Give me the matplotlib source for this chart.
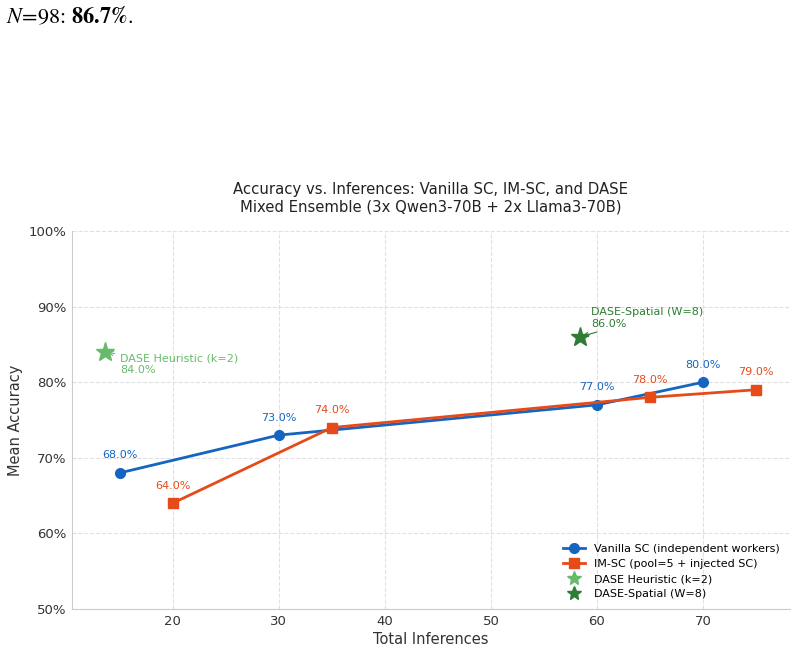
import matplotlib.pyplot as plt
from matplotlib.lines import Line2D
from matplotlib.ticker import PercentFormatter

# data
vanilla_x = [15, 30, 60, 70]
vanilla_y = [68.0, 73.0, 77.0, 80.0]
imsc_x = [20, 35, 65, 75]
imsc_y = [64.0, 74.0, 78.0, 79.0]
heur_x, heur_y = 13.6, 84.0
spatial_x, spatial_y = 58.4, 86.0

blue = '#1565C0'
orange = '#E64A19'
lgreen = '#66BB6A'
dgreen = '#2E7D32'

plt.rcParams['mathtext.fontset'] = 'stix'
fig = plt.figure(figsize=(7.96, 6.48), dpi=100)
ax = fig.add_axes([72 / 796, 1 - 609 / 648, (790 - 72) / 796, (609 - 231) / 648])

# page fragment above the chart
fig.text(0.008, 0.99, r'$N\!=\!98$: $\mathbf{86.7\%}$.', fontsize=16,
         family='STIXGeneral', va='top', ha='left')

ax.plot(vanilla_x, vanilla_y, '-o', color=blue, lw=2, ms=7, zorder=3)
ax.plot(imsc_x, imsc_y, '-s', color=orange, lw=2, ms=7, zorder=3)
ax.plot(heur_x, heur_y, '*', color=lgreen, ms=14, linestyle='none', zorder=4)
ax.plot(spatial_x, spatial_y, '*', color=dgreen, ms=14, linestyle='none', zorder=4)

for x, y in zip(vanilla_x, vanilla_y):
    ax.annotate(f'{y:.1f}%', (x, y), xytext=(0, 9), textcoords='offset points',
                ha='center', va='bottom', fontsize=8, color=blue)
for x, y in zip(imsc_x, imsc_y):
    ax.annotate(f'{y:.1f}%', (x, y), xytext=(0, 9), textcoords='offset points',
                ha='center', va='bottom', fontsize=8, color=orange)

ax.annotate(f'DASE Heuristic (k=2)\n{heur_y:.1f}%', (heur_x, heur_y),
            xytext=(11, -1), textcoords='offset points', ha='left', va='top',
            fontsize=8, color=lgreen,
            arrowprops=dict(arrowstyle='->', color=lgreen, lw=0.8))
ax.annotate(f'DASE-Spatial (W=8)\n{spatial_y:.1f}%', (spatial_x, spatial_y),
            xytext=(8, 6), textcoords='offset points', ha='left', va='bottom',
            fontsize=8, color=dgreen,
            arrowprops=dict(arrowstyle='->', color=dgreen, lw=0.8))

ax.set_ylim(50, 100)
ax.set_xlim(10.5, 78.2)
ax.yaxis.set_major_formatter(PercentFormatter(decimals=0))
ax.set_xticks([20, 30, 40, 50, 60, 70])
ax.grid(True, linestyle='--', color='#e0e0e0', lw=0.8)
ax.set_axisbelow(True)
for s in ['top', 'right']:
    ax.spines[s].set_visible(False)
for s in ['left', 'bottom']:
    ax.spines[s].set_color('#cccccc')
ax.tick_params(colors='#333333', labelsize=9.5, length=0, pad=4)

ax.set_xlabel('Total Inferences', fontsize=10.5, color='#333333', labelpad=3)
ax.set_ylabel('Mean Accuracy', fontsize=10.5, color='#333333', labelpad=4)
ax.set_title('Accuracy vs. Inferences: Vanilla SC, IM-SC, and DASE\n'
             'Mixed Ensemble (3x Qwen3-70B + 2x Llama3-70B)',
             fontsize=10.7, color='#222222', pad=14)

handles = [
    Line2D([], [], color=blue, marker='o', lw=2, ms=7),
    Line2D([], [], color=orange, marker='s', lw=2, ms=7),
    Line2D([], [], color=lgreen, marker='*', lw=0, ms=10),
    Line2D([], [], color=dgreen, marker='*', lw=0, ms=10),
]
labels = ['Vanilla SC (independent workers)', 'IM-SC (pool=5 + injected SC)',
          'DASE Heuristic (k=2)', 'DASE-Spatial (W=8)']
ax.legend(handles, labels, loc='lower right', fontsize=8, frameon=False,
          handlelength=2, labelspacing=0.45)

fig.savefig('out.png', dpi=100)
